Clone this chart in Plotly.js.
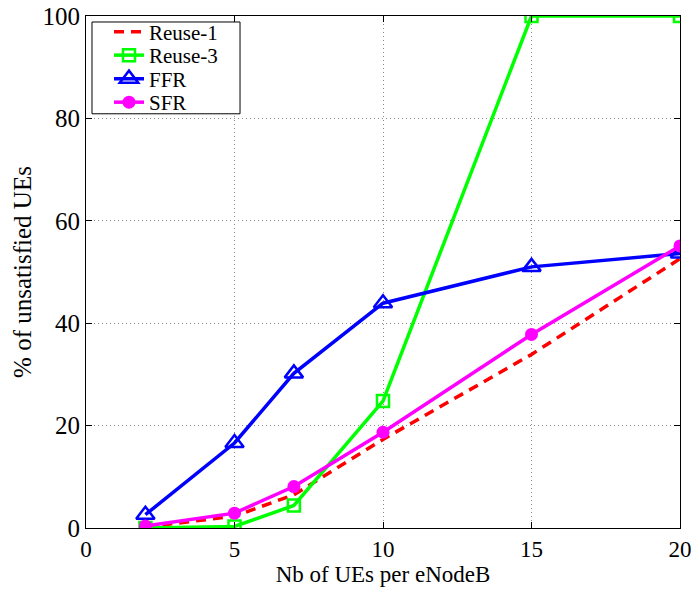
<!DOCTYPE html>
<html><head><meta charset="utf-8">
<script src="https://cdn.plot.ly/plotly-3.0.1.min.js"></script>
<style>body{margin:0;padding:0;background:#fff}#chart{width:694px;height:589px}</style>
</head><body><div id="chart"></div>
<script>
var ues = [2, 5, 7, 10, 15, 20];
var reuse1 = [0.2, 2.3, 6.5, 17.3, 33.9, 52.6];
var reuse3 = [0, 0.3, 4.4, 24.8, 100, 100];
var ffr = [2.6, 16.6, 30.2, 43.9, 51.0, 53.6];
var sfr = [0.4, 2.9, 8.1, 18.7, 37.8, 55.1];
var seriesNames = ['Reuse-1', 'Reuse-3', 'FFR', 'SFR'];
var xTicks = [0, 5, 10, 15, 20];
var yTicks = [0, 20, 40, 60, 80, 100];

var SERIF = 'Liberation Serif';

var traces = [
  {x: ues, y: reuse1, name: seriesNames[0], mode: 'lines', legend: 'legend',
   line: {color: '#ff0000', width: 3.5, dash: '10px,7px'}},
  {x: ues, y: reuse3, name: seriesNames[1], mode: 'lines+markers', legend: 'legend2',
   line: {color: '#00ff00', width: 3.5},
   marker: {symbol: 'square-open', size: 12, color: '#00ff00', line: {width: 2.5, color: '#00ff00'}}},
  {x: ues, y: ffr, name: seriesNames[2], mode: 'lines+markers', legend: 'legend3',
   line: {color: '#0000ff', width: 3.5},
   marker: {symbol: 'triangle-up-open', size: 16, color: '#0000ff', line: {width: 2.5, color: '#0000ff'}}},
  {x: ues, y: sfr, name: seriesNames[3], mode: 'lines+markers', legend: 'legend4',
   line: {color: '#ff00ff', width: 3.5},
   marker: {symbol: 'circle', size: 13, color: '#ff00ff'}}
];

var axisCommon = {
  showline: true, linecolor: '#000', linewidth: 1, mirror: 'ticks',
  ticks: 'inside', ticklen: 6, tickcolor: '#000', tickwidth: 1,
  showgrid: true, gridcolor: '#8a8a8a', griddash: '1px,3px', gridwidth: 1,
  zeroline: false
};

function leg(yc) {
  return {
    x: 0.0387, y: yc, xanchor: 'left', yanchor: 'middle',
    bgcolor: 'rgba(0,0,0,0)', borderwidth: 0,
    font: {family: SERIF, size: 21, color: '#000'},
    itemwidth: 30
  };
}

var layout = {
  width: 694, height: 589,
  margin: {l: 86, r: 14, t: 15, b: 61},
  paper_bgcolor: '#fff', plot_bgcolor: '#fff',
  font: {family: SERIF, color: '#000'},
  xaxis: Object.assign({}, axisCommon, {
    range: [0, 20], tickvals: xTicks, ticktext: xTicks.map(String),
    tickfont: {family: SERIF, size: 23, color: '#000'},
    title: {text: 'Nb of UEs per eNodeB', font: {family: SERIF, size: 23}, standoff: 4}
  }),
  yaxis: Object.assign({}, axisCommon, {
    range: [0, 100], tickvals: yTicks, ticktext: yTicks.map(String),
    tickfont: {family: SERIF, size: 25, color: '#000'},
    title: {text: '% of unsatisfied UEs', font: {family: SERIF, size: 25}, standoff: 3}
  }),
  showlegend: true,
  legend: leg(0.9669),
  legend2: leg(0.9211),
  legend3: leg(0.8752),
  legend4: leg(0.8294),
  shapes: [{
    type: 'rect', xref: 'paper', yref: 'paper', layer: 'above',
    x0: 0.0101, x1: 0.2593, y0: 0.8090, y1: 0.9883,
    fillcolor: '#fff', line: {color: '#000', width: 1}
  }]
};

Plotly.newPlot('chart', traces, layout, {displayModeBar: false, staticPlot: true});
</script>
</body></html>
